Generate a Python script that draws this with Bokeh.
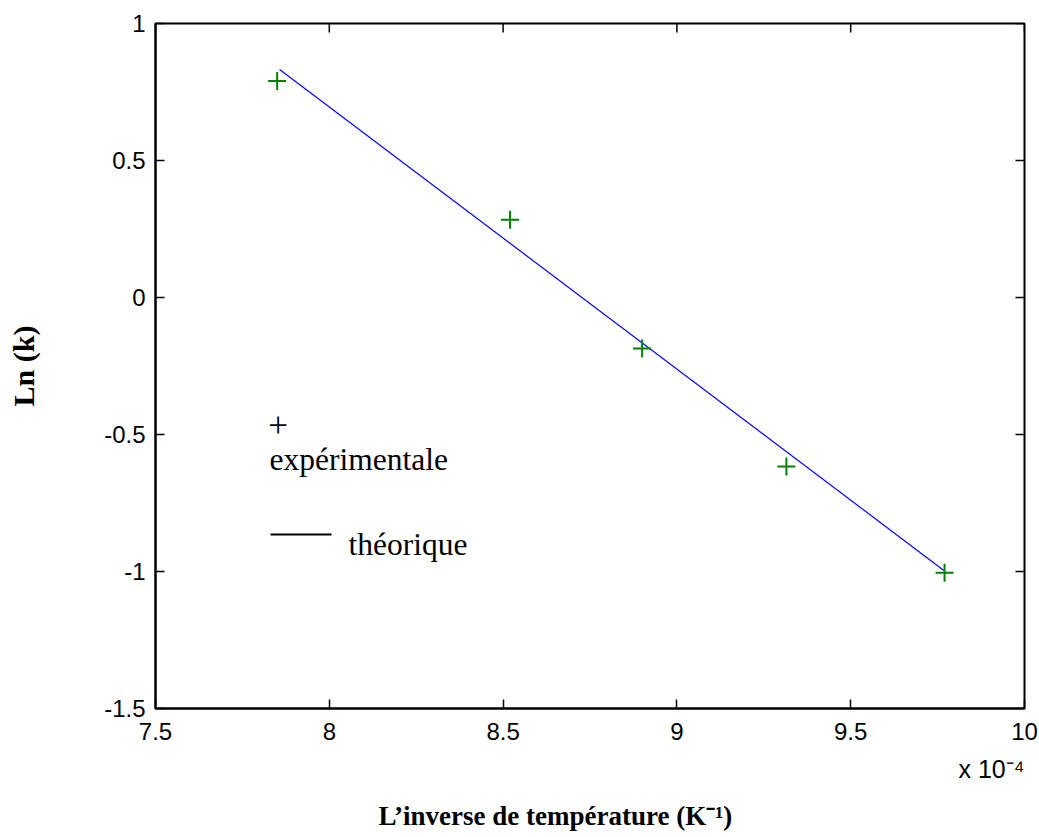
import math
from bokeh.plotting import figure
from bokeh.models import LinearAxis, FixedTicker, NumeralTickFormatter, Label, Arrow, Title
from bokeh.embed import file_html
from bokeh.resources import INLINE

# ---- data ----
inv_T = [7.85, 8.52, 8.90, 9.315, 9.77]          # 1/T  (x 10^-4 K^-1)
ln_k = [0.79, 0.284, -0.186, -0.617, -1.005]      # Ln(k) experimental
fit_x = [7.857, 9.768]                            # theoretical line
fit_y = [0.832, -0.996]
x_ticks = [7.5, 8, 8.5, 9, 9.5, 10]
y_ticks = [-1.5, -1, -0.5, 0, 0.5, 1]

# ---- layout geometry (pixels) ----
W, H = 1039, 837
FL, FR, FT, FB = 155, 1024, 23, 708
X0, X1 = 7.5, 10.0
Y0, Y1 = -1.5, 1.0
TICK_LEN = 9


def dx(px):
    return X0 + (px - FL) / (FR - FL) * (X1 - X0)


def dy(py):
    return Y1 - (py - FT) / (FB - FT) * (Y1 - Y0)


p = figure(width=W, height=H, x_range=(X0, X1), y_range=(Y0, Y1),
           output_backend="svg", toolbar_location=None,
           x_axis_location=None, y_axis_location=None,
           min_border_left=FL, min_border_right=W - FR,
           min_border_top=FT, min_border_bottom=H - FB)
p.background_fill_color = "white"
p.border_fill_color = "white"
p.outline_line_color = "black"
p.outline_line_width = 2
p.xgrid.visible = False
p.ygrid.visible = False

TICK_FONT = "Liberation Sans"
SERIF = "Liberation Serif"


def make_axis(ticks, standoff):
    ax = LinearAxis(ticker=FixedTicker(ticks=ticks),
                    formatter=NumeralTickFormatter(format="0.[0]"))
    ax.major_tick_in = TICK_LEN
    ax.major_tick_out = 0
    ax.minor_tick_line_color = None
    ax.axis_line_color = "black"
    ax.axis_line_width = 2
    ax.major_tick_line_color = "black"
    ax.major_tick_line_width = 1.5
    ax.major_label_text_font = TICK_FONT
    ax.major_label_text_font_size = "24px"
    ax.major_label_text_color = "black"
    ax.major_label_standoff = standoff
    return ax


xaxis = make_axis(x_ticks, 14)
yaxis = make_axis(y_ticks, 10)
yaxis.axis_label = "Ln (k)"
yaxis.axis_label_text_font = SERIF
yaxis.axis_label_text_font_size = "30px"
yaxis.axis_label_text_font_style = "bold"
yaxis.axis_label_text_color = "black"
yaxis.axis_label_standoff = 61
p.add_layout(xaxis, "below")
p.add_layout(yaxis, "left")

# multiplier and x title stacked under the x axis
mult = Title(text="x 10\u207b\u2074", align="right", text_font=TICK_FONT,
             text_font_size="25px", text_font_style="normal", text_color="black",
             standoff=20)
xtitle = Title(text="L\u2019inverse de température (K\u207b\u00b9)", align="left",
               offset=223, text_font=SERIF, text_font_size="27px",
               text_font_style="bold", text_color="black", standoff=12)
p.add_layout(mult, "below")
p.add_layout(xtitle, "below")

# inner ticks on top and right edges (frame box)
dxt = TICK_LEN / (FR - FL) * (X1 - X0)
dyt = TICK_LEN / (FB - FT) * (Y1 - Y0)
p.segment(x0=x_ticks, x1=x_ticks, y0=[Y1] * len(x_ticks), y1=[Y1 - dyt] * len(x_ticks),
          line_color="black", line_width=1.5)
p.segment(x0=[X1] * len(y_ticks), x1=[X1 - dxt] * len(y_ticks), y0=y_ticks, y1=y_ticks,
          line_color="black", line_width=1.5)

# ---- data marks ----
p.line(fit_x, fit_y, line_color="#0000ff", line_width=1.2)
p.scatter(inv_T, ln_k, marker="cross", size=18, line_color="#008000", line_width=2)

# ---- legend (custom, black) ----
SHIFT = 8
p.add_layout(Label(x=dx(277.5), y=dy(432 - SHIFT), text="+", text_font=SERIF,
                   text_font_size="35px", text_align="center",
                   text_baseline="alphabetic", text_color="black"))
p.add_layout(Label(x=dx(269), y=dy(467 - SHIFT), text="expérimentale", text_font=SERIF,
                   text_font_size="31.5px", text_align="left",
                   text_baseline="alphabetic", text_color="black"))
p.add_layout(Arrow(start=None, end=None, x_start=dx(270), y_start=dy(534),
                   x_end=dx(331), y_end=dy(534), line_color="black", line_width=2))
p.add_layout(Label(x=dx(348), y=dy(552 - SHIFT), text="théorique", text_font=SERIF,
                   text_font_size="31.5px", text_align="left",
                   text_baseline="alphabetic", text_color="black"))

open("out.html", "w").write(file_html(p, INLINE))
